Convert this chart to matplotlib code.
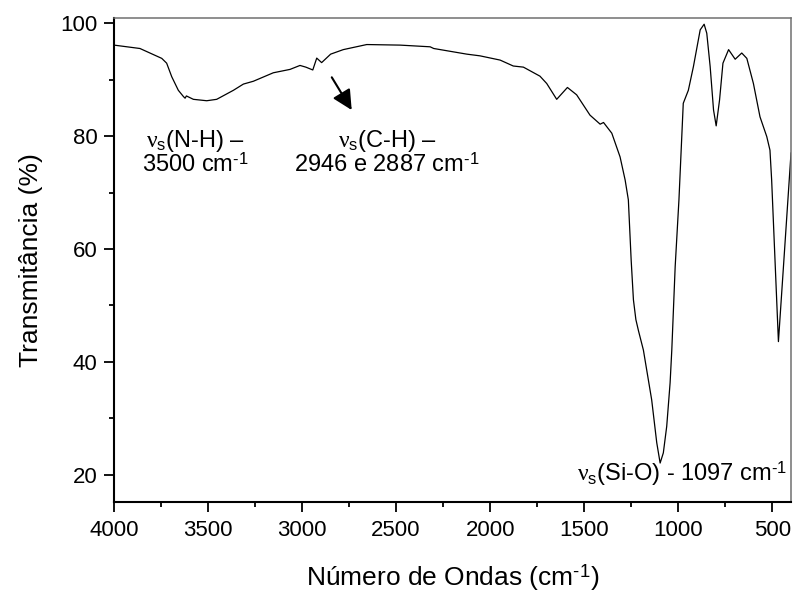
import numpy as np
import matplotlib
matplotlib.use('Agg')
import matplotlib.pyplot as plt
from matplotlib.ticker import MultipleLocator

plt.rcParams['font.family'] = ['Liberation Sans', 'DejaVu Sans']
plt.rcParams['mathtext.fontset'] = 'custom'
plt.rcParams['mathtext.rm'] = 'Liberation Sans'
plt.rcParams['mathtext.it'] = 'Liberation Serif'

# FTIR spectrum (wavenumber cm-1, transmittance %)
wavenumber = [4000, 3862, 3746, 3720, 3693, 3658, 3631, 3622, 3615, 3578,
              3507, 3454, 3365, 3312, 3259, 3153, 3064, 3011, 2980, 2943,
              2922, 2896, 2848, 2781, 2656, 2479, 2319, 2300, 2124, 2054,
              1947, 1877, 1823, 1735, 1699, 1646, 1589, 1540, 1469, 1415,
              1397, 1353, 1309, 1282, 1265, 1250, 1238, 1225, 1211, 1185,
              1141, 1114, 1096, 1079, 1061, 1043, 1034, 1016, 996, 973,
              946, 919, 883, 862, 848, 830, 812, 798, 780, 762,
              732, 697, 662, 635, 600, 565, 529, 512, 503, 467,
              440, 400]
transmit = [96.1, 95.5, 93.75, 92.9, 90.5, 88.1, 87.0, 86.7, 87.1, 86.5,
            86.25, 86.5, 88.1, 89.2, 89.7, 91.2, 91.8, 92.5, 92.2, 91.7,
            93.8, 93.0, 94.5, 95.3, 96.2, 96.1, 95.8, 95.5, 94.5, 94.2,
            93.45, 92.4, 92.2, 90.6, 89.3, 86.5, 88.6, 87.3, 83.7, 82.1,
            82.4, 80.5, 76.3, 72.2, 68.7, 58.0, 51.0, 47.5, 45.5, 42.1,
            33.3, 25.7, 22.1, 23.9, 28.6, 36.3, 42.1, 56.9, 68.7, 85.8,
            88.1, 92.3, 98.8, 99.8, 98.2, 92.3, 84.6, 81.8, 86.4, 92.9,
            95.3, 93.6, 94.7, 93.75, 89.3, 83.4, 79.9, 77.5, 72.2, 43.6,
            57.0, 77.0]

fig = plt.figure(figsize=(7.95, 5.96), dpi=100)
ax = fig.add_axes([0.1434, 0.1577, 0.8516, 0.8121])

ax.plot(wavenumber, transmit, color='black', lw=0.9)

ax.set_xlim(4000, 400)
ax.set_ylim(15.2, 100.9)
ax.xaxis.set_major_locator(MultipleLocator(500))
ax.xaxis.set_minor_locator(MultipleLocator(250))
ax.yaxis.set_major_locator(MultipleLocator(20))
ax.yaxis.set_minor_locator(MultipleLocator(10))

for s in ['left', 'bottom']:
    ax.spines[s].set_linewidth(1.5)
    ax.spines[s].set_color('black')
for s in ['top', 'right']:
    ax.spines[s].set_linewidth(1.1)
    ax.spines[s].set_color('#707070')

ax.tick_params(which='major', direction='out', length=7, width=1.3, labelsize=16)
ax.tick_params(which='minor', direction='out', length=3.6, width=1.3)
ax.tick_params(axis='x', which='major', pad=6)
ax.tick_params(axis='y', which='major', pad=5)

ax.set_xlabel(r'Número de Ondas (cm$^{\text{-1}}$)', fontsize=19, labelpad=15)
ax.set_ylabel('Transmitância (%)', fontsize=19, labelpad=12)

fs = 17
ax.text(3569, 78.1, r'$\nu_{\mathrm{s}}$(N-H) –', fontsize=fs, ha='center', va='baseline')
ax.text(3569, 73.6, r'3500 cm$^{\text{-1}}$', fontsize=fs, ha='center', va='baseline')
ax.text(2548, 78.1, r'$\nu_{\mathrm{s}}$(C-H) –', fontsize=fs, ha='center', va='baseline')
ax.text(2548, 73.6, r'2946 e 2887 cm$^{\text{-1}}$', fontsize=fs, ha='center', va='baseline')
ax.text(421, 18.85, r'$\nu_{\mathrm{s}}$(Si-O) - 1097 cm$^{\text{-1}}$', fontsize=fs,
        ha='right', va='baseline')

ax.annotate('', xy=(2736, 84.6), xytext=(2842, 90.4),
            arrowprops=dict(arrowstyle='-|>,head_length=0.6,head_width=0.3',
                            color='black', lw=1.5, mutation_scale=20,
                            shrinkA=0, shrinkB=0))

fig.savefig('out.png', dpi=100)
